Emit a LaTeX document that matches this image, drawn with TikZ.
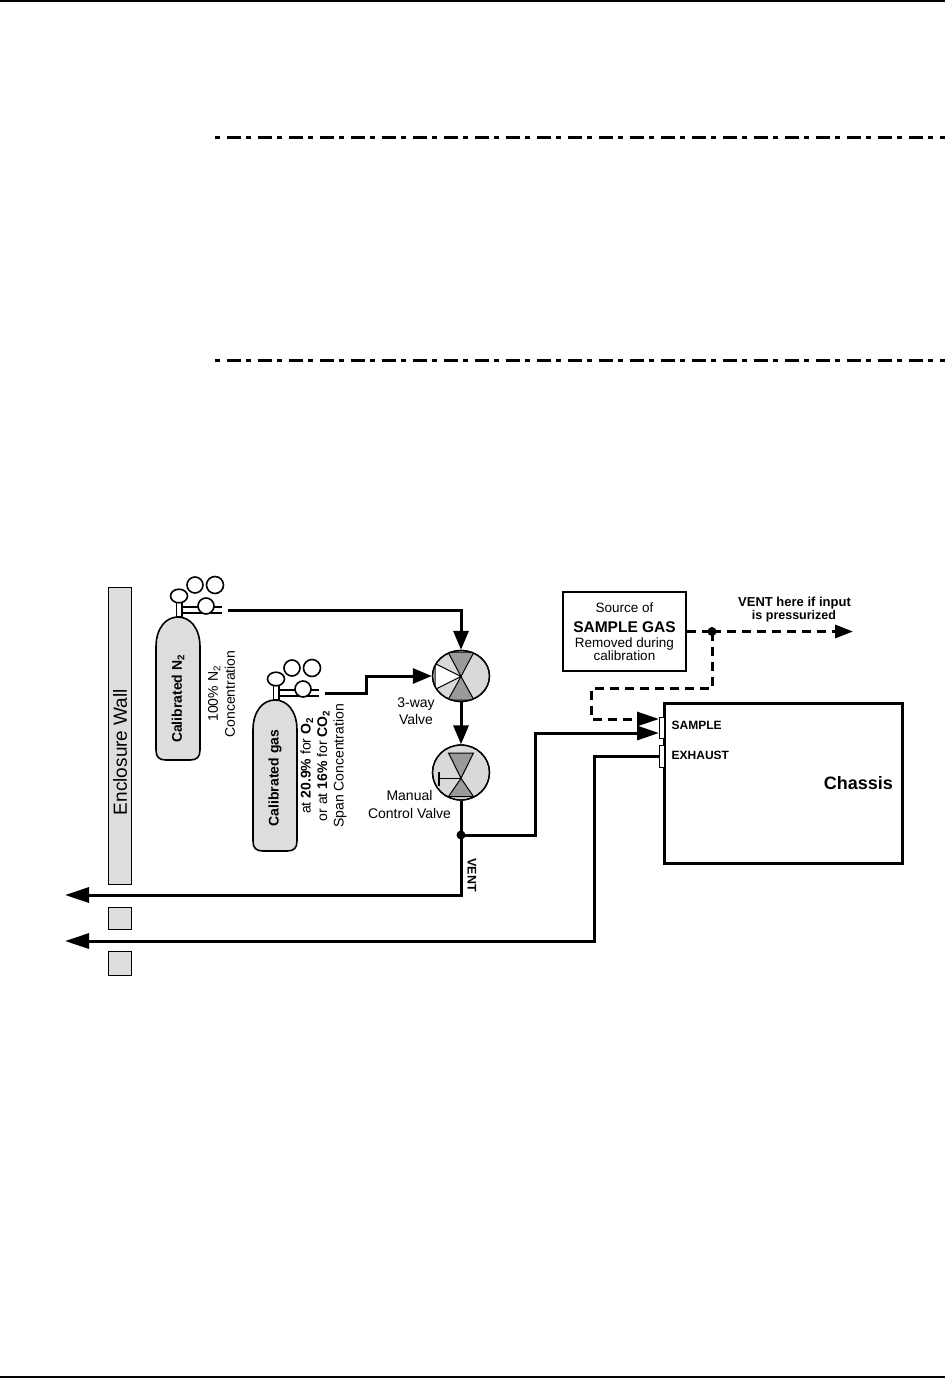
\documentclass[tikz,border=0pt]{standalone}
\usepackage{fontspec}
\setmainfont{Liberation Sans}
\usepackage{graphicx}
\usetikzlibrary{arrows.meta,shapes.geometric}
\definecolor{lightfill}{HTML}{DDDDDD}
\definecolor{valvefill}{HTML}{D9D9D9}
\definecolor{darkfill}{HTML}{9A9A9A}
\newcommand\lowsub[1]{\raisebox{-0.35ex}{\scalebox{0.7}{#1}}}
\newcommand\fsz[2]{\fontsize{#1}{#2}\selectfont}
\begin{document}
\begin{tikzpicture}[x=1pt,y=-1pt,
  pipe/.style={line width=3pt},
  dpipe/.style={line width=3pt, dash pattern=on 9pt off 6pt},
  arrV/.style={-{Triangle[length=19pt,width=15pt]}},
  arrP/.style={-{Triangle[length=22pt,width=14pt]}},
  arrL/.style={-{Triangle[length=24pt,width=15pt]}},
  arrS/.style={-{Triangle[length=18pt,width=13pt]}},
  cyl/.style={draw, fill=lightfill, line width=1.6pt},
  gauge/.style={draw, fill=white, line width=1.6pt},
  wallbox/.style={draw, fill=lightfill, line width=1pt},
  valve/.style={ellipse, draw, fill=valvefill, line width=1.3pt, minimum width=57pt, inner sep=0pt},
  port/.style={draw, fill=white, line width=1pt},
  txt/.style={inner sep=0pt, font=\fsz{14}{17}, align=center},
  btxt/.style={inner sep=0pt, font=\bfseries\fsz{14}{17}},
  pageline/.style={line width=2pt},
  dashdot/.style={line width=3pt, dash pattern=on 5pt off 6.5pt on 14pt off 5.5pt}
]
\useasboundingbox (0,0) rectangle (945,1378);

% page rules
\coordinate (tl) at (0,1.2); \coordinate (tr) at (945,1.2);
\coordinate (bl) at (0,1376.8); \coordinate (br) at (945,1376.8);
\draw[pageline] (tl) -- (tr);
\draw[pageline] (bl) -- (br);
\coordinate (d1a) at (215,138); \coordinate (d1b) at (945,138);
\coordinate (d2a) at (215,360); \coordinate (d2b) at (945,360);
\draw[dashdot] (d1a) -- (d1b);
\draw[dashdot] (d2a) -- (d2b);

% enclosure wall
\draw[wallbox] (108,587) rectangle (131,884);
\draw[wallbox] (108,907) rectangle (131,929);
\draw[wallbox] (108,951) rectangle (131,975);
\node[inner sep=0pt, rotate=90, font=\fsz{19}{22}] (wall) at (120,752) {Enclosure Wall};

% N2 cylinder
\draw[cyl] (156,647) .. controls (156,628) and (166,617) .. (178,617) .. controls (190,617) and (200,628) .. (200,647) -- (200,750) .. controls (200,757) and (197,760) .. (190,760) -- (166,760) .. controls (159,760) and (156,757) .. (156,750) -- cycle;
\draw[gauge] (176.5,601) rectangle (182,617);
\draw[gauge] (179,596) ellipse [x radius=8.5, y radius=6.8];
\draw[line width=1.4pt] (182,607) -- (222,607) (182,613) -- (222,613);
\draw[gauge] (195,585) circle [radius=8];
\draw[gauge] (215,585) circle [radius=8.5];
\draw[gauge] (206,606) circle [radius=8];
\coordinate (n2out) at (228,610);
\node[btxt, rotate=90] (n2lbl) at (178,699) {Calibrated N\lowsub{2}};
\node[txt, rotate=90] (n2conc) at (221.5,694) {100\% N\lowsub{2}\\Concentration};

% calibrated gas cylinder
\draw[cyl] (253,730) .. controls (253,711) and (263,700) .. (275,700) .. controls (287,700) and (297,711) .. (297,730) -- (297,841) .. controls (297,848) and (294,851) .. (287,851) -- (263,851) .. controls (256,851) and (253,848) .. (253,841) -- cycle;
\begin{scope}[shift={(97,83)}]
\draw[gauge] (176.5,601) rectangle (182,617);
\draw[gauge] (179,596) ellipse [x radius=8.5, y radius=6.8];
\draw[line width=1.4pt] (182,607) -- (222,607) (182,613) -- (222,613);
\draw[gauge] (195,585) circle [radius=8];
\draw[gauge] (215,585) circle [radius=8.5];
\draw[gauge] (206,606) circle [radius=8];
\end{scope}
\coordinate (gasout) at (325,693);
\node[btxt, rotate=90] (gaslbl) at (275,778) {Calibrated gas};
\node[txt, rotate=90, font=\fsz{14}{16.5}] (gasconc) at (323.5,766) {at \textbf{20.9\%} for \textbf{O\lowsub{2}}\\or at \textbf{16\%} for \textbf{CO\lowsub{2}}\\Span Concentration};

% 3-way valve
\node[valve, minimum height=51pt] (v3) at (461,676) {};
\begin{scope}[shift={(v3.center)}]
  \clip (0,0) ellipse [x radius=28.5, y radius=25.5];
  \filldraw[fill=white, line width=1pt] (-26,-12.5) -- (0,0.5) -- (-26,13.5) -- cycle;
  \filldraw[fill=darkfill, line width=1pt] (-13,-24) -- (13,-24) -- (0,0.5) -- cycle;
  \filldraw[fill=darkfill, line width=1pt] (-13,24) -- (13,24) -- (0,0.5) -- cycle;
\end{scope}
\draw[line width=1.3pt] (v3.center) ellipse [x radius=28.5, y radius=25.5];
\node[txt] (v3lbl) at (416,711) {3-way\\Valve};

% manual control valve
\node[valve, minimum height=55pt] (mv) at (461,772.5) {};
\begin{scope}[shift={(mv.center)}]
  \clip (0,0) ellipse [x radius=28.5, y radius=27.5];
  \filldraw[fill=darkfill, line width=1pt] (-12.5,-19.5) -- (12.5,-19.5) -- (0,5.8) -- cycle;
  \filldraw[fill=darkfill, line width=1pt] (-12.5,24) -- (12.5,24) -- (0,5.8) -- cycle;
  \draw[line width=1.3pt] (-22,-1) -- (-22,13) (-22,5.8) -- (0,5.8);
\end{scope}
\draw[line width=1.3pt] (mv.center) ellipse [x radius=28.5, y radius=27.5];
\node[txt, font=\fsz{14}{18}] (mvlbl) at (409.5,804) {Manual\\Control Valve};

% source box
\node[draw, line width=1.5pt, minimum width=123pt, minimum height=79pt, inner sep=0pt] (src) at (624.5,631.5) {};
\node[inner sep=0pt, anchor=base, font=\fsz{13.5}{16}] (s1) at (624.5,612) {Source of};
\node[inner sep=0pt, anchor=base, font=\bfseries\fsz{15.5}{18}] (s2) at (624.5,632.5) {SAMPLE GAS};
\node[inner sep=0pt, anchor=base, font=\fsz{13.5}{16}] (s3) at (624.5,647) {Removed during};
\node[inner sep=0pt, anchor=base, font=\fsz{13.5}{16}] (s4) at (624.5,660.5) {calibration};

% vent label at top
\node[inner sep=0pt, anchor=base, font=\bfseries\fsz{13}{15}] (vt1) at (794.5,606.5) {VENT here if input};
\node[inner sep=0pt, anchor=base, font=\bfseries\fsz{12.5}{15}] (vt2) at (794,619.5) {is pressurized};

% chassis
\node[draw, line width=3pt, minimum width=238pt, minimum height=160pt, inner sep=0pt] (chassis) at (783,783) {};
\draw[port] (659,717) rectangle (664,738);
\draw[port] (659,745) rectangle (664,767);
\node[inner sep=0pt, anchor=base west, font=\bfseries\fsz{12}{14}] (samplbl) at (671.5,729.3) {SAMPLE};
\node[inner sep=0pt, anchor=base west, font=\bfseries\fsz{12}{14}] (exlbl) at (671.5,759) {EXHAUST};
\node[inner sep=0pt, anchor=base east, font=\bfseries\fsz{18}{21}] (chlbl) at (893,789.5) {Chassis};

% connection coordinates
\coordinate (j1) at (461,835);
\coordinate (ventL) at (65,895);
\coordinate (exL) at (65,941);
\coordinate (sport) at (659,733);
\coordinate (sdport) at (659,719);
\coordinate (export) at (659,756);
\coordinate (j2) at (712,631.5);
\coordinate (ventR) at (853,631.5);

% solid pipes
\draw[pipe, arrV] (n2out) -| (v3.north);
\draw[pipe, arrV] (gasout) -- ++(41,0) |- (v3.west);
\draw[pipe, arrV] (v3.south) -- (mv.north);
\draw[pipe] (mv.south) -- (j1);
\draw[pipe, arrL] (j1) |- (ventL);
\draw[pipe, arrP] (j1) -- (535,835) |- (sport);
\draw[pipe, arrL] (export) -- (594,756) |- (exL);
\fill (j1) circle [radius=4.5];

% dashed pipes
\draw[dpipe] (src.east) -- (j2);
\draw[dpipe, arrS] (j2) -- (ventR);
\draw[dpipe, arrP] (j2) -- (712,688) -- (591,688) |- (sdport);
\fill (j2) circle [radius=4.5];

% VENT vertical label
\node[inner sep=0pt, rotate=-90, font=\bfseries\fsz{12.5}{15}] (ventlbl) at (472,875) {VENT};
\end{tikzpicture}
\end{document}
